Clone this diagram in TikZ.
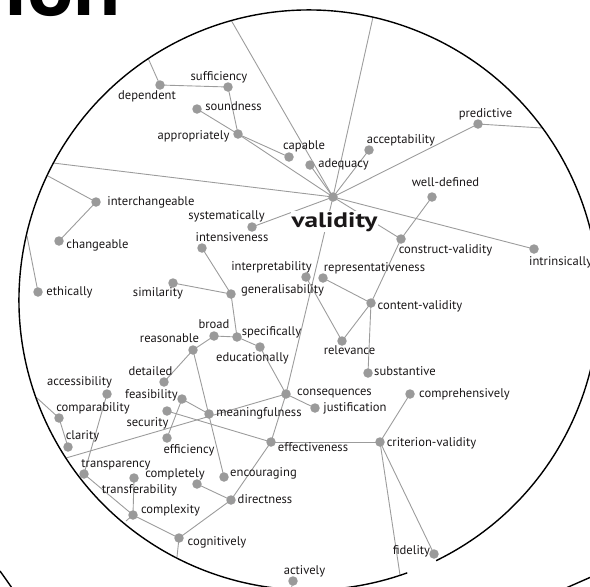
\documentclass[tikz,border=0pt]{standalone}
\usepackage{fontspec}
\setmainfont{PT Sans}
\usetikzlibrary{backgrounds}
\definecolor{dotgray}{HTML}{9A9A9A}
\definecolor{linegray}{HTML}{9C9C9C}
\definecolor{ink}{HTML}{1A1718}
\tikzset{
  dot/.style={circle, fill=dotgray, inner sep=0pt, minimum size=9.5pt},
  lbl/.style={font=\fontsize{12.6}{13}\selectfont, text=ink, inner sep=0pt,
              text height=9pt, text depth=2.8pt},
  link/.style={draw=linegray, line width=0.9pt},
  rim/.style={draw=black, line width=1.4pt}
}
\begin{document}
\begin{tikzpicture}[x=1pt, y=-1pt]
\useasboundingbox (0,0) rectangle (590,587);

% large heading, cut by the top edge
\node[anchor=base west, inner sep=0pt, text=black,
      font=\fontsize{80}{80}\selectfont\bfseries] (head) at (4,15)
      {\scalebox{1.08}[1]{ion}};

% lens outline
\draw[rim] ([shift={(-64:290pt)}]309,300) arc[start angle=-64, end angle=289.8, radius=290pt];
\draw[rim] (0,571) .. controls (5,578) .. (12,588);
\draw[rim] (566,588) .. controls (578,583) .. (591,577);

% rim points where branches leave the lens
\coordinate (e1) at (231,20);
\coordinate (e2) at (373,17);
\coordinate (e3) at (53,163);
\coordinate (e4) at (148,58);
\coordinate (e5) at (48,176);
\coordinate (e6) at (27,236);
\coordinate (e7) at (542,128);
\coordinate (e8) at (400,575);
\coordinate (e9) at (177,557);
\coordinate (e10) at (126,521);
\coordinate (e11) at (37,398);
\coordinate (e12) at (66,458);
\coordinate (e13) at (291,590);

% term dots
\node[dot] (dependent) at (160,85) {};
\node[dot] (sufficiency) at (228,87) {};
\node[dot] (soundness) at (197,109) {};
\node[dot] (appropriately) at (238,134) {};
\node[dot] (capable) at (289,157) {};
\node[dot] (adequacy) at (310,165) {};
\node[dot] (acceptability) at (369,150) {};
\node[dot] (predictive) at (478,124) {};
\node[dot] (validity) at (333,197) {};
\node[dot] (welldefined) at (432,197) {};
\node[dot] (construct) at (401,239) {};
\node[dot] (intrinsically) at (534,249) {};
\node[dot] (interpretability) at (306,277) {};
\node[dot] (representativeness) at (323,278) {};
\node[dot] (content) at (371,303) {};
\node[dot] (relevance) at (342,341) {};
\node[dot] (substantive) at (368,373) {};
\node[dot] (generalisability) at (231,294) {};
\node[dot] (systematically) at (252,227) {};
\node[dot] (intensiveness) at (202,248) {};
\node[dot] (interchangeable) at (96,202) {};
\node[dot] (changeable) at (59,241) {};
\node[dot] (ethically) at (38,292) {};
\node[dot] (similarity) at (173,283) {};
\node[dot] (broad) at (214,336) {};
\node[dot] (specifically) at (237,337) {};
\node[dot] (educationally) at (260,347) {};
\node[dot] (reasonable) at (193,350) {};
\node[dot] (detailed) at (164,382) {};
\node[dot] (consequences) at (286,394) {};
\node[dot] (justification) at (315,408) {};
\node[dot] (meaningfulness) at (209,414) {};
\node[dot] (effectiveness) at (271,442) {};
\node[dot] (criterion) at (380,442) {};
\node[dot] (comprehensively) at (410,394) {};
\node[dot] (fidelity) at (434,554) {};
\node[dot] (feasibility) at (182,399) {};
\node[dot] (security) at (167,411) {};
\node[dot] (efficiency) at (167,438) {};
\node[dot] (accessibility) at (107,394) {};
\node[dot] (comparability) at (59,418) {};
\node[dot] (clarity) at (68,447) {};
\node[dot] (transparency) at (84,474) {};
\node[dot] (transferability) at (134,478) {};
\node[dot] (complexity) at (133,515) {};
\node[dot] (cognitively) at (179,538) {};
\node[dot] (completely) at (197,484) {};
\node[dot] (encouraging) at (224,477) {};
\node[dot] (directness) at (231,500) {};
\node[dot] (actively) at (293,581) {};

% labels
\node[lbl] (l-dependent) at (147,96) {dependent};
\node[lbl] (l-sufficiency) at (219,77) {sufficiency};
\node[lbl] (l-soundness) at (233.5,107) {soundness};
\node[lbl] (l-appropriately) at (193.5,136) {appropriately};
\node[lbl] (l-capable) at (304,146) {capable};
\node[lbl] (l-adequacy) at (343.5,164) {adequacy};
\node[lbl] (l-acceptability) at (401,140) {acceptability};
\node[lbl] (l-predictive) at (485.5,114) {predictive};
\node[lbl] (l-welldefined) at (445.5,183) {well-defined};
\node[lbl] (l-construct) at (445.5,250) {construct-validity};
\node[lbl, anchor=west] (l-intrinsically) at (529,262) {intrinsically};
\node[lbl] (l-interpretability) at (271.5,267) {interpretability};
\node[lbl] (l-representativeness) at (374.5,268) {representativeness};
\node[lbl] (l-content) at (420,306) {content-validity};
\node[lbl] (l-relevance) at (349.5,351) {relevance};
\node[lbl] (l-substantive) at (405,372) {substantive};
\node[lbl] (l-generalisability) at (282.5,290) {generalisability};
\node[lbl] (l-systematically) at (226.5,216) {systematically};
\node[lbl] (l-intensiveness) at (232,238) {intensiveness};
\node[lbl] (l-interchangeable) at (151,202) {interchangeable};
\node[lbl] (l-changeable) at (97.5,245) {changeable};
\node[lbl] (l-ethically) at (69.5,292) {ethically};
\node[lbl] (l-similarity) at (158,293) {similarity};
\node[lbl] (l-broad) at (214,325) {broad};
\node[lbl] (l-specifically) at (271.5,332) {specifically};
\node[lbl] (l-educationally) at (252.5,358) {educationally};
\node[lbl] (l-reasonable) at (169.5,339) {reasonable};
\node[lbl] (l-detailed) at (150.5,372) {detailed};
\node[lbl] (l-consequences) at (334.5,392) {consequences};
\node[lbl] (l-justification) at (355,408) {justification};
\node[lbl] (l-meaningfulness) at (259,413) {meaningfulness};
\node[lbl] (l-effectiveness) at (313,448) {effectiveness};
\node[lbl] (l-criterion) at (431.5,443) {criterion-validity};
\node[lbl] (l-comprehensively) at (464.5,394) {comprehensively};
\node[lbl] (l-fidelity) at (411.5,551) {fidelity};
\node[lbl] (l-feasibility) at (151.5,395) {feasibility};
\node[lbl] (l-security) at (147.5,423) {security};
\node[lbl] (l-efficiency) at (189,450) {efficiency};
\node[lbl] (l-accessibility) at (79.5,382) {accessibility};
\node[lbl] (l-comparability) at (93,408) {comparability};
\node[lbl] (l-clarity) at (82.5,436) {clarity};
\node[lbl] (l-transparency) at (116,464) {transparency};
\node[lbl] (l-transferability) at (139.5,490) {transferability};
\node[lbl] (l-complexity) at (170.5,510) {complexity};
\node[lbl] (l-cognitively) at (217,542) {cognitively};
\node[lbl] (l-completely) at (175,474) {completely};
\node[lbl] (l-encouraging) at (263.5,473) {encouraging};
\node[lbl] (l-directness) at (265,500) {directness};
\node[lbl] (l-actively) at (304.5,571) {actively};
\node[anchor=base, inner sep=1pt, fill=white, text=ink,
      font=\fontsize{21}{23}\selectfont\bfseries] (l-validity) at (334.5,227)
      {\scalebox{1.3}[1]{validity}};

% branches
\begin{pgfonlayer}{background}
\foreach \a/\b in {
  e1/validity, e2/validity, e3/validity, e4/dependent,
  dependent/sufficiency, sufficiency/appropriately, soundness/appropriately,
  appropriately/capable, appropriately/validity, adequacy/validity,
  acceptability/validity, predictive/validity, predictive/e7,
  systematically/validity, validity/construct, validity/intrinsically,
  construct/welldefined, construct/content, content/representativeness,
  content/relevance, content/substantive, relevance/interpretability,
  validity/consequences, consequences/effectiveness, consequences/justification,
  e12/consequences, meaningfulness/feasibility, reasonable/encouraging,
  detailed/reasonable, reasonable/broad, broad/specifically,
  specifically/educationally, educationally/consequences,
  specifically/generalisability, generalisability/intensiveness,
  generalisability/similarity, feasibility/efficiency, security/effectiveness,
  effectiveness/criterion, criterion/comprehensively, criterion/fidelity,
  criterion/e8, effectiveness/directness, directness/completely,
  directness/cognitively, cognitively/complexity, cognitively/e9,
  complexity/e10, complexity/transferability, complexity/transparency,
  transparency/accessibility, comparability/e11, comparability/clarity,
  interchangeable/e5, interchangeable/changeable, ethically/e6, actively/e13}
  \draw[link] (\a.center) -- (\b.center);
\end{pgfonlayer}
\end{tikzpicture}
\end{document}
